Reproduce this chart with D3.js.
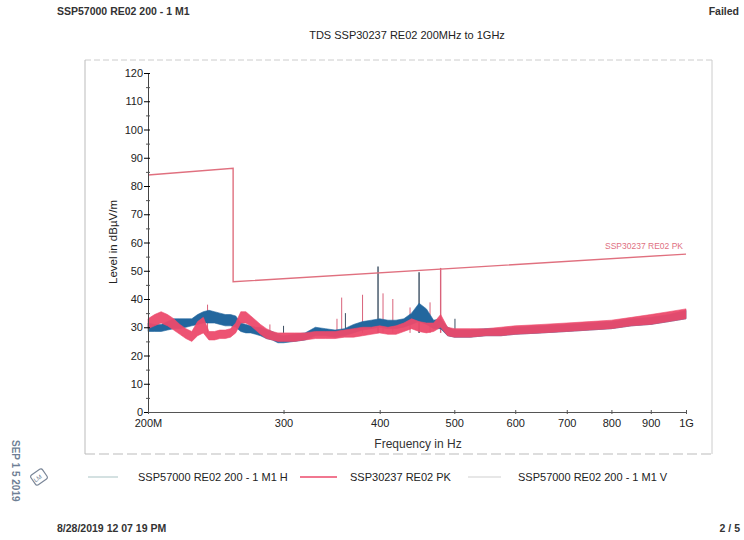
<!DOCTYPE html>
<html>
<head>
<meta charset="utf-8">
<script src="https://cdn.jsdelivr.net/npm/d3@7"></script>
<style>
  body { margin: 0; background: #fff; }
  svg { font-family: "Liberation Sans", Arial, sans-serif; }
  .tick text { fill: #222; }
</style>
</head>
<body>
<svg width="744" height="540"></svg>
<script>
// frequency grid (MHz) and level bands (dBuV/m)
freqs = [200, 204, 208, 212, 216, 220, 224, 228, 232, 236, 240, 244, 248, 252, 256, 260, 264, 268, 272, 276, 280, 285, 290, 295, 300, 310, 320, 330, 340, 350, 360, 370, 380, 390, 400, 410, 420, 430, 440, 450, 460, 470, 480, 490, 500, 525, 550, 575, 600, 650, 700, 750, 800, 850, 900, 950, 1000];
hLo = [28.5, 28.5, 28.5, 29, 29.5, 29.5, 30, 30.5, 31, 31.5, 31.5, 31.5, 31, 30.5, 30.5, 30, 28.5, 28, 28, 27.5, 27, 26, 25.5, 24.5, 24.5, 25, 25.5, 27, 27, 26.5, 27, 28, 29, 29.5, 30, 29.5, 29.5, 30, 31, 32, 31, 29.5, 29.5, 27, 26.5, 26.5, 27, 27, 27.5, 28, 28.5, 29, 29.5, 30.5, 31, 32, 33];
hHi = [31.5, 31, 31, 32, 33, 33, 33, 33, 34.5, 35.5, 36, 35.5, 35, 34.5, 34.5, 34, 31.5, 31, 30.5, 30, 30, 29, 28.5, 27.5, 27, 27.5, 28, 30, 29.5, 29, 29.5, 31, 32, 32.5, 33, 32.5, 32.5, 33, 35, 38.5, 36.5, 32.5, 33, 30, 29, 29, 29.5, 29.5, 30, 30.5, 31, 31.5, 32, 33, 33.5, 34.5, 36];
vLo = [29.5, 30.5, 31.5, 30.5, 29, 27.5, 26, 25, 27, 28, 25.5, 25.5, 26, 26, 26.5, 28, 31.5, 31.5, 30.5, 29, 27.5, 26, 25.5, 25, 25, 25, 25.5, 26, 26, 26, 26.5, 26.5, 27, 27.5, 28, 27.5, 27.5, 28.5, 29.5, 28.5, 28, 28.5, 30, 27, 26.5, 26.5, 27, 27, 27.5, 28, 28.5, 29, 29.5, 30.5, 31, 32, 33];
vHi = [33, 34.5, 35.5, 34.5, 33, 31, 29.5, 28.5, 32, 33.5, 28.5, 28.5, 29, 29, 29.5, 31.5, 35.5, 35.5, 34, 32.5, 31, 29.5, 28.5, 28, 28, 28, 28, 28.5, 28.5, 28.5, 29, 29.5, 30, 30, 30.5, 30, 30.5, 31.5, 33, 32, 31.5, 31.5, 34.5, 30, 29.5, 29.5, 29.5, 30, 30.5, 31, 31.5, 32, 32.5, 33.5, 34.5, 35.5, 36.5];

// narrow peaks
spikeFreqs = [239, 288, 300, 352, 357, 361, 380, 398, 404, 416, 438, 450, 465, 480, 501];
spikeLevels = [38, 31, 30.5, 33, 40.5, 35, 41.5, 51.5, 42, 40, 37, 49.5, 38.8, 51, 33];
spikeSeries = ['V', 'V', 'H', 'V', 'V', 'H', 'V', 'H', 'V', 'V', 'V', 'H', 'V', 'V', 'H'];

// limit line
limitFreqs = [200, 258, 258, 1000];
limitLevels = [83.9, 86.3, 46.1, 55.9];

yTicks = [0, 10, 20, 30, 40, 50, 60, 70, 80, 90, 100, 110, 120];
yMinor = [5, 15, 25, 35, 45, 55, 65, 75, 85, 95, 105, 115];
xTicks = [200, 300, 400, 500, 600, 700, 800, 900, 1000];
xTickLabels = ['200M', '300', '400', '500', '600', '700', '800', '900', '1G'];

legendNames = ['SSP57000 RE02 200 - 1 M1 H', 'SSP30237 RE02 PK', 'SSP57000 RE02 200 - 1 M1 V'];

BLUE = '#23679e';
RED = '#ec4a6b';
LIMIT = '#e0707f';

svg = d3.select('svg');

xScale = d3.scaleLog().domain([200, 1000]).range([148, 686]);
yScale = d3.scaleLinear().domain([0, 120]).range([412, 73]);

// page header / footer
pageText = (x, y, anchor, s) => svg.append('text')
    .attr('x', x).attr('y', y)
    .attr('font-size', 10.5).attr('font-weight', 'bold').attr('fill', '#333')
    .attr('text-anchor', anchor).text(s);
pageText(57, 15, 'start', 'SSP57000 RE02 200 - 1 M1');
pageText(739, 15, 'end', 'Failed');
pageText(57, 532, 'start', '8/28/2019 12 07 19 PM');
pageText(740, 532, 'end', '2 / 5');

// title
svg.append('text').attr('x', 407).attr('y', 39).attr('font-size', 11).attr('fill', '#222')
    .attr('text-anchor', 'middle').text('TDS SSP30237 RE02 200MHz to 1GHz');

// outer frame of the plot region (faint, scanned)
svg.append('line').attr('x1', 85).attr('y1', 60).attr('x2', 712).attr('y2', 60)
    .attr('stroke', '#ccc').attr('stroke-dasharray', '6,3');
svg.append('line').attr('x1', 85).attr('y1', 60).attr('x2', 85).attr('y2', 454).attr('stroke', '#bbb');
svg.append('line').attr('x1', 712).attr('y1', 60).attr('x2', 712).attr('y2', 454).attr('stroke', '#ccc');
svg.append('line').attr('x1', 85).attr('y1', 454).attr('x2', 712).attr('y2', 454)
    .attr('stroke', '#bbb').attr('stroke-dasharray', '10,4');

chart = svg.append('g');

// spikes (drawn first so the bands cover their base)
chart.selectAll('.spike')
    .data(spikeFreqs)
    .enter()
    .append('line')
    .attr('class', 'spike')
    .attr('x1', (f) => xScale(f))
    .attr('x2', (f) => xScale(f))
    .attr('y1', yScale(28))
    .attr('y2', (f, i) => yScale(spikeLevels[i]))
    .attr('stroke', (f, i) => spikeSeries[i] == 'H' ? '#3c4f63' : '#d9627a')
    .attr('stroke-width', (f, i) => spikeLevels[i] > 45 ? 1.4 : 1);

band = (lo, hi) => d3.area()
    .x((f) => xScale(f))
    .y0((f, i) => yScale(lo[i]))
    .y1((f, i) => yScale(hi[i]));

chart.append('path')
    .datum(freqs)
    .attr('d', band(hLo, hHi))
    .attr('fill', BLUE)
    .attr('stroke', BLUE)
    .attr('stroke-width', 0.6);

chart.append('path')
    .datum(freqs)
    .attr('d', band(vLo, vHi))
    .attr('fill', RED)
    .attr('fill-opacity', 0.95)
    .attr('stroke', RED)
    .attr('stroke-width', 0.6);

// limit line
limitLine = d3.line()
    .x((f) => xScale(f))
    .y((f, i) => yScale(limitLevels[i]));

chart.append('path')
    .datum(limitFreqs)
    .attr('d', limitLine)
    .attr('fill', 'none')
    .attr('stroke', LIMIT)
    .attr('stroke-width', 1.4);

chart.append('text')
    .attr('x', xScale(1000) - 3)
    .attr('y', yScale(limitLevels[3]) - 5)
    .attr('text-anchor', 'end')
    .attr('font-size', 8.5)
    .attr('fill', LIMIT)
    .text('SSP30237 RE02 PK');

// y axis
yAxis = chart.append('g')
    .attr('transform', `translate(${xScale(200)}, 0)`)
    .call(d3.axisLeft(yScale).tickValues(yTicks).tickSize(4).tickPadding(1));
yAxis.selectAll('.tick line').attr('x1', 2);
yAxis.selectAll('.tick text').attr('font-size', 11);
yAxis.select('.domain').attr('stroke', '#444');

yMinorAxis = chart.append('g')
    .attr('transform', `translate(${xScale(200)}, 0)`)
    .call(d3.axisLeft(yScale).tickValues(yMinor).tickSize(2).tickFormat(''));
yMinorAxis.selectAll('.tick line').attr('x1', 2).attr('stroke', '#555');
yMinorAxis.select('.domain').remove();

// x axis
xAxis = chart.append('g')
    .attr('transform', `translate(0, ${yScale(0)})`)
    .call(d3.axisBottom(xScale).tickValues(xTicks).tickSize(2).tickPadding(5)
        .tickFormat((d, i) => xTickLabels[i]));
xAxis.selectAll('.tick line').attr('y1', -2).attr('stroke', '#555');
xAxis.selectAll('.tick text').attr('font-size', 11);
xAxis.select('.domain').attr('stroke', '#555');

// axis titles
svg.append('text')
    .attr('transform', 'translate(117, 242) rotate(-90)')
    .attr('text-anchor', 'middle')
    .attr('font-size', 11.5)
    .attr('fill', '#222')
    .text('Level in dBµV/m');

svg.append('text')
    .attr('x', 418)
    .attr('y', 448)
    .attr('text-anchor', 'middle')
    .attr('font-size', 12)
    .attr('fill', '#333')
    .text('Frequency in Hz');

// legend
legendX = [88, 300, 468];
legendW = [30, 37, 33];
legendTextX = [138, 350, 518];
legendColors = ['#a9c3c4', RED, '#cfcfcf'];

legend = svg.append('g');
legend.selectAll('line')
    .data(legendNames)
    .enter()
    .append('line')
    .attr('x1', (d, i) => legendX[i])
    .attr('x2', (d, i) => legendX[i] + legendW[i])
    .attr('y1', 477)
    .attr('y2', 477)
    .attr('stroke', (d, i) => legendColors[i])
    .attr('stroke-width', (d, i) => i == 1 ? 1.6 : 1);
legend.selectAll('text')
    .data(legendNames)
    .enter()
    .append('text')
    .attr('x', (d, i) => legendTextX[i])
    .attr('y', 481)
    .attr('font-size', 11)
    .attr('fill', '#222')
    .text((d) => d);

// received stamp at the left margin
stamp = svg.append('g').attr('fill', '#6f7f95');
stamp.append('text')
    .attr('transform', 'translate(12, 440) rotate(90)')
    .attr('font-size', 10)
    .attr('font-weight', 'bold')
    .text('SEP 1 5 2019');
stamp.append('rect')
    .attr('transform', 'translate(39, 477) rotate(-35)')
    .attr('x', -7).attr('y', -6).attr('width', 14).attr('height', 12)
    .attr('rx', 2)
    .attr('fill', 'none')
    .attr('stroke', '#7a8698')
    .attr('stroke-width', 1.2);
stamp.append('text')
    .attr('transform', 'translate(39, 480) rotate(-35)')
    .attr('font-size', 6)
    .attr('text-anchor', 'middle')
    .text('LM');
</script>
</body>
</html>
